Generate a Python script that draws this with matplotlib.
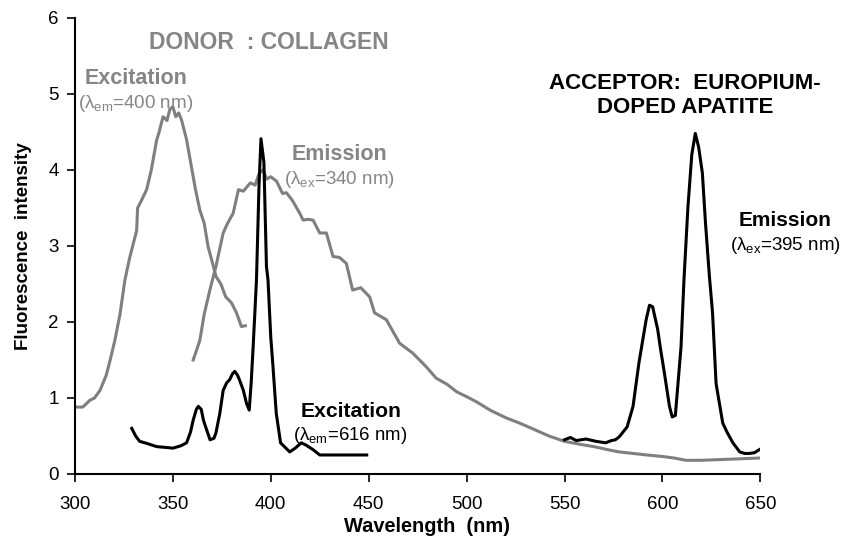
import matplotlib
matplotlib.use("Agg")
import matplotlib.pyplot as plt

plt.rcParams["font.family"] = ["Liberation Sans", "DejaVu Sans"]
plt.rcParams["mathtext.fontset"] = "custom"
plt.rcParams["mathtext.rm"] = "Liberation Sans"
plt.rcParams["mathtext.it"] = "Liberation Sans:italic"
plt.rcParams["mathtext.bf"] = "Liberation Sans:bold"

# ── Data ──────────────────────────────────────────────────────────────────────
# Collagen excitation (lambda_em = 400 nm)
col_exc_nm = [300, 304, 307.6, 310, 312.8, 316, 318, 320.4, 323, 325.5, 328, 331.5, 332, 334,
              336.6, 339, 341.7, 343, 345, 347, 348.5, 350, 351.5, 353, 354.4, 357, 359.5,
              361.5, 363.8, 366, 368, 370, 372, 374.5, 377, 380, 382.5, 385, 387]
col_exc_val = [0.88, 0.88, 0.97, 1.0, 1.1, 1.3, 1.5, 1.76, 2.1, 2.55, 2.85, 3.2, 3.5, 3.6,
               3.74, 4.0, 4.39, 4.5, 4.7, 4.65, 4.8, 4.83, 4.7, 4.75, 4.66, 4.4, 4.04,
               3.75, 3.47, 3.3, 2.99, 2.8, 2.6, 2.5, 2.33, 2.25, 2.12, 1.94, 1.95]

# Collagen emission (lambda_ex = 340 nm)
col_em_nm = [360.4, 362, 363.8, 366, 368.9, 372, 375.7, 378, 380.8, 383.5, 386, 389.6, 392,
             394, 396, 398, 400, 403, 406, 408, 411, 414.8, 416.5, 419, 421.6, 425, 428.4,
             431.8, 435, 438.6, 441.8, 446, 450.5, 453, 459, 465.8, 472.5, 479.4, 484.5,
             490, 495, 499.8, 505, 512, 520, 527, 535, 542, 550, 558, 565, 572, 578, 585,
             592, 600, 606, 612, 620, 630, 640, 649.5]
col_em_val = [1.5, 1.62, 1.76, 2.1, 2.42, 2.73, 3.17, 3.3, 3.43, 3.74, 3.72, 3.83, 3.8,
              3.95, 4.0, 3.88, 3.91, 3.85, 3.69, 3.7, 3.6, 3.43, 3.34, 3.35, 3.34, 3.17, 3.17,
              2.86, 2.85, 2.77, 2.42, 2.45, 2.33, 2.12, 2.03, 1.72, 1.59, 1.41, 1.26,
              1.18, 1.08, 1.02, 0.95, 0.84, 0.74, 0.67, 0.58, 0.5, 0.43, 0.39, 0.36, 0.32,
              0.29, 0.27, 0.25, 0.23, 0.21, 0.18, 0.18, 0.19, 0.2, 0.21]

# Eu-apatite excitation (lambda_em = 616 nm)
eu_exc_nm = [329, 331, 333, 337, 341.7, 346, 350, 354, 357, 359, 360.4, 362, 363, 364.5,
             365.6, 367, 369, 371, 372, 374, 375.7, 377.5, 379, 380.5, 381.6, 383, 384, 386,
             387.6, 389, 390, 391, 392.7, 394, 395, 396.5, 397.8, 398.6, 400, 401, 402.8,
             405, 409.7, 412.5, 415.6, 418, 421.6, 425, 432, 440, 449]
eu_exc_val = [0.6, 0.5, 0.43, 0.4, 0.36, 0.35, 0.34, 0.37, 0.41, 0.55, 0.71, 0.85, 0.89, 0.85,
              0.71, 0.6, 0.45, 0.47, 0.54, 0.8, 1.1, 1.2, 1.24, 1.32, 1.35, 1.3, 1.24, 1.1,
              0.93, 0.84, 1.2, 1.67, 2.55, 3.8, 4.41, 4.1, 2.73, 2.55, 1.8, 1.46, 0.8,
              0.41, 0.29, 0.34, 0.41, 0.38, 0.32, 0.25, 0.25, 0.25, 0.25]

# Eu-apatite emission (lambda_ex = 395 nm)
eu_em_nm = [550, 553, 556, 561, 566, 571, 574, 576, 578, 582, 585, 588, 591.7, 593.4, 595,
            597.6, 599, 601, 603.6, 605, 606.6, 609.5, 611, 613, 615, 616.8, 618.5, 620.4,
            622, 624, 625.6, 627.4, 630.8, 633, 636, 639.5, 642, 644.4, 647, 649.5]
eu_em_val = [0.45, 0.48, 0.44, 0.46, 0.43, 0.41, 0.44, 0.45, 0.49, 0.62, 0.89, 1.46, 2.03, 2.22,
             2.2, 1.9, 1.65, 1.33, 0.89, 0.75, 0.77, 1.67, 2.55, 3.5, 4.2, 4.48, 4.3, 3.96,
             3.3, 2.6, 2.12, 1.19, 0.67, 0.55, 0.41, 0.29, 0.27, 0.27, 0.28, 0.32]

x_ticks = [300, 350, 400, 450, 500, 550, 600, 650]
y_ticks = [0, 1, 2, 3, 4, 5, 6]

GREY = "#7f7f7f"
GREY_TXT = "#858585"

fig = plt.figure(figsize=(8.42, 5.42), dpi=100)
ax = fig.add_axes([0.089, 0.1255, 0.814, 0.8415])

ax.plot(col_exc_nm, col_exc_val, color=GREY, lw=2.2)
ax.plot(col_em_nm, col_em_val, color=GREY, lw=2.2)
ax.plot(eu_exc_nm, eu_exc_val, color="black", lw=2.2)
ax.plot(eu_em_nm, eu_em_val, color="black", lw=2.2)

ax.set_xlim(300, 650)
ax.set_ylim(0, 6)
ax.set_xticks(x_ticks)
ax.set_yticks(y_ticks)
ax.tick_params(direction="out", length=6, width=1.2, labelsize=13.5)
ax.tick_params(axis="x", pad=10)
ax.tick_params(axis="y", pad=5.5)
for s in ("top", "right"):
    ax.spines[s].set_visible(False)
for s in ("left", "bottom"):
    ax.spines[s].set_linewidth(1.5)

ax.set_xlabel("Wavelength  (nm)", fontsize=14.4, fontweight="bold", labelpad=3)
ax.xaxis.set_label_coords(0.514, -0.095)
ax.set_ylabel("Fluorescence  intensity", fontsize=13.5, fontweight="bold", labelpad=12)

# ── Annotations ──────────────────────────────────────────────────────────────
ax.text(399, 5.68, "DONOR  : COLLAGEN", color=GREY_TXT, fontsize=16.5,
        fontweight="bold", ha="center", va="center")
ax.text(331, 5.2, "Excitation", color=GREY_TXT, fontsize=15.5, fontweight="bold",
        ha="center", va="center")
ax.text(331, 4.88, r"(λ$_{\rm em}$=400 nm)", color=GREY_TXT, fontsize=13.5,
        ha="center", va="center")
ax.text(435, 4.2, "Emission", color=GREY_TXT, fontsize=15.5, fontweight="bold",
        ha="center", va="center")
ax.text(435, 3.87, r"(λ$_{\rm ex}$=340 nm)", color=GREY_TXT, fontsize=13.5,
        ha="center", va="center")

ax.text(611.5, 5.14, "ACCEPTOR:  EUROPIUM-", color="black", fontsize=16,
        fontweight="bold", ha="center", va="center")
ax.text(611.5, 4.82, "DOPED APATITE", color="black", fontsize=16,
        fontweight="bold", ha="center", va="center")
ax.text(662.5, 3.34, "Emission", color="black", fontsize=15, fontweight="bold",
        ha="center", va="center")
ax.text(663, 3.01, r"(λ$_{\rm ex}$=395 nm)", color="black", fontsize=13.5,
        ha="center", va="center")
ax.text(441, 0.82, "Excitation", color="black", fontsize=15.2, fontweight="bold",
        ha="center", va="center")
ax.text(440.5, 0.51, r"(λ$_{\rm em}$=616 nm)", color="black", fontsize=13.4,
        ha="center", va="center")

fig.savefig("out.png", dpi=100)
